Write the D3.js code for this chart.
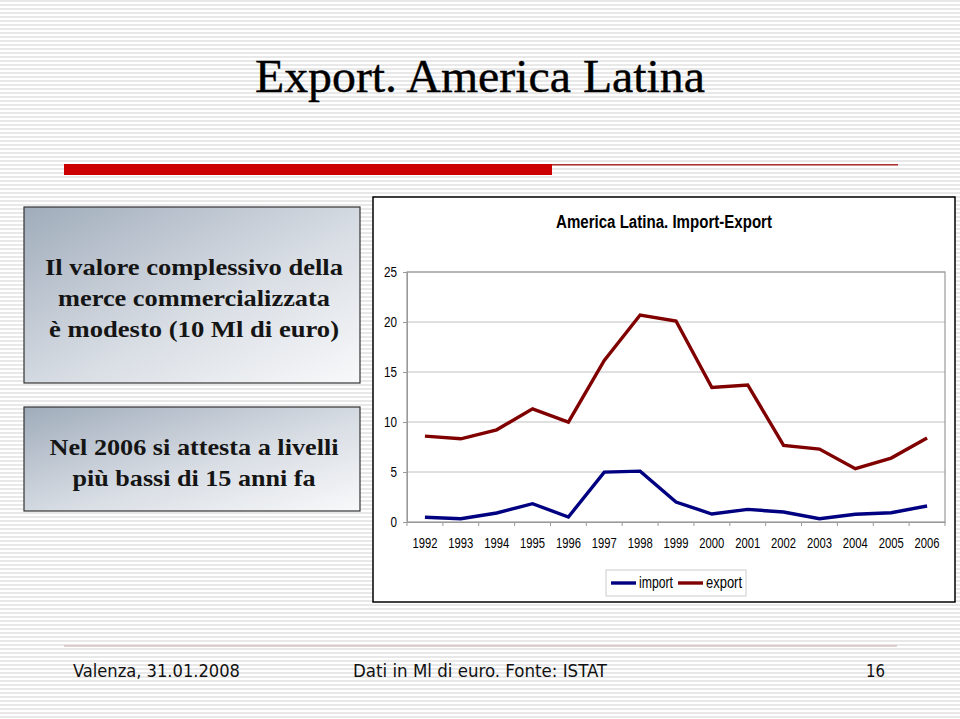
<!DOCTYPE html>
<html><head><meta charset="utf-8">
<script src="https://cdn.jsdelivr.net/npm/d3@7"></script>
<style>body{margin:0;background:#fff}svg{display:block}</style>
</head><body>
<script>
const years = ["1992","1993","1994","1995","1996","1997","1998","1999","2000","2001","2002","2003","2004","2005","2006"];
const importValues = [0.47,0.33,0.9,1.83,0.5,4.99,5.09,2.0,0.8,1.26,1.0,0.33,0.77,0.93,1.6];
const exportValues = [8.59,8.32,9.22,11.32,9.99,16.15,20.7,20.1,13.45,13.7,7.66,7.29,5.33,6.39,8.39];
const yTicks = [0,5,10,15,20,25];
const seriesNames = ["import","export"];
const seriesColors = ["#000080","#800000"];

const W=960,H=719;
const svg=d3.select("body").append("svg").attr("width",W).attr("height",H);
const defs=svg.append("defs");
const pat=defs.append("pattern").attr("id","stripes").attr("patternUnits","userSpaceOnUse").attr("width",8).attr("height",4);
pat.append("rect").attr("width",8).attr("height",4).attr("fill","#ffffff");
pat.append("rect").attr("y",0).attr("width",8).attr("height",2).attr("fill","#e8e8e8");
svg.append("rect").attr("width",W).attr("height",H).attr("fill","url(#stripes)");

const grad=defs.append("linearGradient").attr("id","boxg").attr("x1","0").attr("y1","0").attr("x2","1").attr("y2","1");
grad.append("stop").attr("offset","0").attr("stop-color","#a0acbb");
grad.append("stop").attr("offset","0.55").attr("stop-color","#d8dde4");
grad.append("stop").attr("offset","1").attr("stop-color","#f8f9fa");

const serif="'Liberation Serif','Times New Roman',serif";
// Title
svg.append("text").attr("x",480).attr("y",92).attr("text-anchor","middle")
  .attr("font-family",serif).attr("font-size",46).attr("textLength",450).attr("lengthAdjust","spacingAndGlyphs")
  .attr("fill","#000").attr("stroke","#000").attr("stroke-width",0.4).text("Export. America Latina");

// red bar
svg.append("rect").attr("x",64).attr("y",164).attr("width",488).attr("height",11).attr("fill","#cc0000");
svg.append("rect").attr("x",552).attr("y",164).attr("width",346).attr("height",1.5).attr("fill","#b03030");

// left boxes
function box(x,y,w,h,lines,ys,lens){
  svg.append("rect").attr("x",x).attr("y",y).attr("width",w).attr("height",h).attr("fill","url(#boxg)").attr("stroke","#333").attr("stroke-width",1.2);
  lines.forEach((l,i)=>svg.append("text").attr("text-anchor","middle").attr("font-family",serif)
    .attr("font-size",24).attr("font-weight","bold").attr("fill","#151515")
    .attr("x",x+w/2+2).attr("y",ys[i]).attr("textLength",lens[i]).attr("lengthAdjust","spacingAndGlyphs").text(l));
}
box(24,207,336,176,["Il valore complessivo della","merce commercializzata","è modesto (10 Ml di euro)"],[275,306,337],[298,272,290]);
box(24,407,336,104,["Nel 2006 si attesta a livelli","più bassi di 15 anni fa"],[455,486],[289,243]);

// chart box
svg.append("rect").attr("x",373).attr("y",197).attr("width",582).attr("height",405).attr("fill","#fff").attr("stroke","#000").attr("stroke-width",1.5);
const font="'Liberation Sans Narrow','Arial Narrow','Liberation Sans',Arial,sans-serif";
svg.append("text").attr("x",664).attr("y",228).attr("text-anchor","middle").attr("font-family",font)
  .attr("font-size",18).attr("font-weight","bold").attr("fill","#000")
  .attr("textLength",216).attr("lengthAdjust","spacingAndGlyphs").text("America Latina. Import-Export");

const L=407,R=945,T=272,B=522;
const x=d3.scaleBand().domain(years).range([L,R]);
const y=d3.scaleLinear().domain([0,25]).range([B,T]);

const g=svg.append("g");
g.selectAll(".grid").data(yTicks.filter(d=>d>0)).enter().append("line")
  .attr("x1",L).attr("x2",R).attr("y1",d=>y(d)).attr("y2",d=>y(d)).attr("stroke","#c0c0c0").attr("stroke-width",1);
g.append("rect").attr("x",L).attr("y",T).attr("width",R-L).attr("height",B-T).attr("fill","none").attr("stroke","#999").attr("stroke-width",1.2);

const ya=g.append("g").attr("transform",`translate(${L},0)`).call(d3.axisLeft(y).tickValues(yTicks).tickSize(4).tickPadding(6));
const xa=g.append("g").attr("transform",`translate(0,${B})`).call(d3.axisBottom(x).tickSize(0).tickPadding(15));
g.selectAll(".xt").data(years.concat(["_end"])).enter().append("line")
  .attr("x1",(d,i)=>L+i*x.step()).attr("x2",(d,i)=>L+i*x.step()).attr("y1",B).attr("y2",B+4).attr("stroke","#999");
[ya,xa].forEach(a=>{a.select(".domain").attr("stroke","#999");a.selectAll(".tick line").attr("stroke","#999");
  a.selectAll("text").attr("font-family",font).attr("font-size",15).attr("fill","#000").attr("lengthAdjust","spacingAndGlyphs");});
xa.selectAll("text").attr("textLength",25);
ya.selectAll("text").attr("textLength",d=>d>=10?13:6.5);

const line=d3.line().x((d,i)=>x(years[i])+x.bandwidth()/2).y(d=>y(d));
[importValues,exportValues].forEach((vals,k)=>{
  g.append("path").datum(vals).attr("d",line).attr("fill","none").attr("stroke",seriesColors[k]).attr("stroke-width",3.4).attr("stroke-linejoin","miter");
});

// legend
const lg=svg.append("g");
lg.append("rect").attr("x",606).attr("y",570).attr("width",140).attr("height",26).attr("fill","#fff").attr("stroke","#ccc");
const lx=[611,678], tl=[34,36];
seriesNames.forEach((n,i)=>{
  lg.append("line").attr("x1",lx[i]).attr("x2",lx[i]+25).attr("y1",583).attr("y2",583).attr("stroke",seriesColors[i]).attr("stroke-width",3.4);
  lg.append("text").attr("x",lx[i]+28).attr("y",588).attr("font-family",font).attr("font-size",16).attr("fill","#000")
    .attr("textLength",tl[i]).attr("lengthAdjust","spacingAndGlyphs").text(n);
});

// footer
svg.append("line").attr("x1",64).attr("x2",897).attr("y1",646).attr("y2",646).attr("stroke","#c8a8a8").attr("stroke-width",1.2);
const ff="'DejaVu Sans Condensed','DejaVu Sans',Verdana,sans-serif";
function ft(xp,txt,len,anchor){
  svg.append("text").attr("x",xp).attr("y",677).attr("text-anchor",anchor||"start").attr("font-family",ff).attr("font-size",18)
    .attr("fill","#111").attr("textLength",len).attr("lengthAdjust","spacingAndGlyphs").text(txt);
}
ft(73,"Valenza, 31.01.2008",167);
ft(353,"Dati in Ml di euro. Fonte: ISTAT",254);
ft(866,"16",19);
</script>
</body></html>
